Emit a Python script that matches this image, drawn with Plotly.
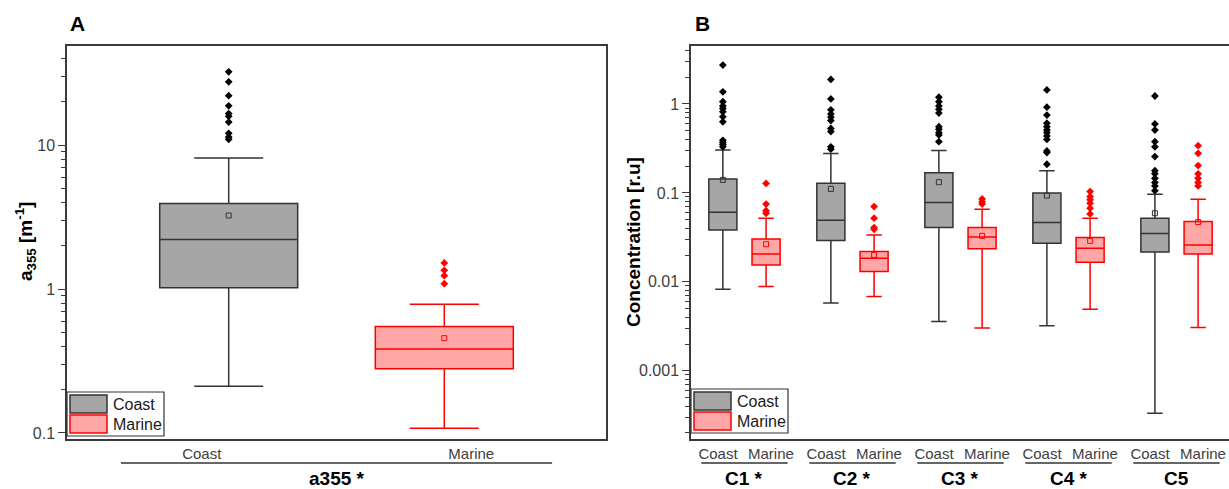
import plotly.graph_objects as go

W, H = 1229, 489
TOP, BOT = 46, 439  # plot area top / bottom in pixels

# ---------------- Panel A data (a355, m^-1) ----------------
a_groups = ["Coast", "Marine"]
a_q1 = [1.02, 0.279]
a_median = [2.21, 0.384]
a_q3 = [3.94, 0.55]
a_low = [0.211, 0.108]
a_high = [8.16, 0.786]
a_mean = [3.25, 0.456]
a_out_coast = [32.4, 27.6, 22.1, 18.8, 16.6, 15.9, 14.5, 12.1, 11.4, 11.0]
a_out_marine = [1.52, 1.35, 1.24, 1.09]

# ---------------- Panel B data (concentration, r.u) ----------------
components = ["C1 *", "C2 *", "C3 *", "C4 *", "C5"]
coast_q1 = [0.0384, 0.0291, 0.0408, 0.0272, 0.0216]
coast_median = [0.0607, 0.0493, 0.0778, 0.0464, 0.0349]
coast_q3 = [0.1436, 0.1285, 0.169, 0.100, 0.052]
coast_low = [0.00828, 0.00577, 0.00358, 0.0032, 0.000332]
coast_high = [0.304, 0.277, 0.299, 0.177, 0.0966]
coast_mean = [0.140, 0.111, 0.132, 0.0933, 0.0591]
marine_q1 = [0.0155, 0.0131, 0.0235, 0.0166, 0.0206]
marine_median = [0.0206, 0.01846, 0.032, 0.0239, 0.026]
marine_q3 = [0.0304, 0.0219, 0.0408, 0.0315, 0.0476]
marine_low = [0.00887, 0.00684, 0.00302, 0.00493, 0.00307]
marine_high = [0.052, 0.0337, 0.0656, 0.052, 0.085]
marine_mean = [0.0265, 0.0201, 0.0329, 0.0289, 0.047]
coast_outliers = [
    [2.74, 1.37, 1.06, 0.95, 0.89, 0.82, 0.72, 0.63, 0.39, 0.37, 0.35, 0.33],
    [1.89, 1.14, 0.86, 0.77, 0.71, 0.65, 0.53, 0.49, 0.33, 0.31],
    [1.19, 1.06, 0.95, 0.87, 0.79, 0.556, 0.52, 0.476, 0.449, 0.377],
    [1.44, 0.92, 0.75, 0.607, 0.556, 0.51, 0.476, 0.437, 0.40, 0.296, 0.284, 0.21],
    [1.23, 0.596, 0.51, 0.377, 0.33, 0.256, 0.178, 0.164, 0.146, 0.131, 0.12, 0.106],
]
marine_outliers = [
    [0.128, 0.075, 0.063, 0.059],
    [0.0702, 0.052, 0.0408, 0.039],
    [0.0857, 0.0798, 0.075],
    [0.1035, 0.0908, 0.0836, 0.0766, 0.0673, 0.058],
    [0.34, 0.279, 0.203, 0.164, 0.146, 0.131, 0.12],
]

COAST_FILL, COAST_LINE = "#a6a6a6", "#333333"
MARINE_FILL, MARINE_LINE = "#ffa6a6", "#ff0000"
AXIS_COLOR = "#3a3a3a"
TICK_TEXT = "#404040"
FONT = "Liberation Sans, Arial, sans-serif"


def px(x):
    return x / W


def py(y):
    return (BOT - y) / (BOT - TOP)


fig = go.Figure()

# ---------- Panel A ----------
a_pos = [1, 2]
for i, (fill, line) in enumerate([(COAST_FILL, COAST_LINE), (MARINE_FILL, MARINE_LINE)]):
    fig.add_trace(go.Box(
        x=[a_pos[i]], q1=[a_q1[i]], median=[a_median[i]], q3=[a_q3[i]],
        lowerfence=[a_low[i]], upperfence=[a_high[i]],
        fillcolor=fill, line=dict(color=line, width=1.5), width=0.64,
        whiskerwidth=0.5, boxpoints=False, showlegend=False,
        xaxis="x", yaxis="y", name=a_groups[i]))
    fig.add_trace(go.Scatter(
        x=[a_pos[i]], y=[a_mean[i]], mode="markers",
        marker=dict(symbol="square-open", size=5, color=line, line=dict(width=1)),
        showlegend=False, xaxis="x", yaxis="y", hoverinfo="skip"))
for i, outs in enumerate([a_out_coast, a_out_marine]):
    col = "#000000" if i == 0 else MARINE_LINE
    fig.add_trace(go.Scatter(
        x=[a_pos[i]] * len(outs), y=outs, mode="markers",
        marker=dict(symbol="diamond", size=6, color=col),
        showlegend=False, xaxis="x", yaxis="y"))

# ---------- Panel B ----------
gpos = [1, 2, 3, 4, 5]
cpos = [g - 0.2 for g in gpos]
mpos = [g + 0.2 for g in gpos]
fig.add_trace(go.Box(
    x=cpos, q1=coast_q1, median=coast_median, q3=coast_q3,
    lowerfence=coast_low, upperfence=coast_high,
    fillcolor=COAST_FILL, line=dict(color=COAST_LINE, width=1.5), width=0.26,
    whiskerwidth=0.55, boxpoints=False, showlegend=False,
    xaxis="x2", yaxis="y2", name="Coast"))
fig.add_trace(go.Box(
    x=mpos, q1=marine_q1, median=marine_median, q3=marine_q3,
    lowerfence=marine_low, upperfence=marine_high,
    fillcolor=MARINE_FILL, line=dict(color=MARINE_LINE, width=1.5), width=0.26,
    whiskerwidth=0.55, boxpoints=False, showlegend=False,
    xaxis="x2", yaxis="y2", name="Marine"))
fig.add_trace(go.Scatter(
    x=cpos, y=coast_mean, mode="markers",
    marker=dict(symbol="square-open", size=5, color=COAST_LINE, line=dict(width=1)),
    showlegend=False, xaxis="x2", yaxis="y2", hoverinfo="skip"))
fig.add_trace(go.Scatter(
    x=mpos, y=marine_mean, mode="markers",
    marker=dict(symbol="square-open", size=5, color=MARINE_LINE, line=dict(width=1)),
    showlegend=False, xaxis="x2", yaxis="y2", hoverinfo="skip"))
cx, cy, mx, my = [], [], [], []
for i in range(5):
    cx += [cpos[i]] * len(coast_outliers[i])
    cy += coast_outliers[i]
    mx += [mpos[i]] * len(marine_outliers[i])
    my += marine_outliers[i]
fig.add_trace(go.Scatter(x=cx, y=cy, mode="markers",
                         marker=dict(symbol="diamond", size=6, color="#000000"),
                         showlegend=False, xaxis="x2", yaxis="y2"))
fig.add_trace(go.Scatter(x=mx, y=my, mode="markers",
                         marker=dict(symbol="diamond", size=6, color=MARINE_LINE),
                         showlegend=False, xaxis="x2", yaxis="y2"))

# ---------- Axes ----------
minorA = [m * 10 ** e for e in range(-2, 2) for m in range(2, 10)]
minorB = [m * 10 ** e for e in range(-4, 1) for m in range(2, 10)]

yaxis_common = dict(type="log", showline=True, linecolor=AXIS_COLOR, linewidth=1.5,
                    ticks="outside", ticklen=7, tickwidth=1.2, tickcolor=AXIS_COLOR,
                    showgrid=False, zeroline=False,
                    tickfont=dict(size=16, color=TICK_TEXT, family=FONT))

fig.update_layout(
    width=W, height=H,
    margin=dict(l=0, r=0, t=TOP, b=H - BOT),
    paper_bgcolor="white", plot_bgcolor="white",
    boxmode="overlay",
    font=dict(family=FONT, color="#1a1a1a"),
    xaxis=dict(domain=[px(67), px(606)], range=[0.25, 2.75], showline=True, mirror=True,
               linecolor=AXIS_COLOR, linewidth=1.5, showgrid=False, zeroline=False,
               tickmode="array", tickvals=[0.875, 2.125], ticktext=a_groups, ticks="",
               tickfont=dict(size=15, color=TICK_TEXT, family=FONT)),
    yaxis=dict(domain=[0, 1], range=[-1.042, 1.69], mirror=True,
               tickmode="array", tickvals=[0.1, 1, 10], ticktext=["0.1", "1", "10"],
               minor=dict(tickmode="array", tickvals=minorA, ticks="outside", ticklen=4,
                          tickcolor=AXIS_COLOR, showgrid=False),
               **yaxis_common),
    xaxis2=dict(domain=[px(691), 1.0], range=[0.505, 5.486], showline=True, mirror=True,
                linecolor=AXIS_COLOR, linewidth=1.5, showgrid=False, zeroline=False,
                anchor="y2",
                tickmode="array",
                tickvals=[v for g in gpos for v in (g - 0.245, g + 0.245)],
                ticktext=[t for g in gpos for t in ("Coast", "Marine")], ticks="",
                tickfont=dict(size=15, color=TICK_TEXT, family=FONT)),
    yaxis2=dict(domain=[0, 1], range=[-3.767, 0.652], anchor="x2",
                tickmode="array", tickvals=[0.001, 0.01, 0.1, 1],
                ticktext=["0.001", "0.01", "0.1", "1"],
                minor=dict(tickmode="array", tickvals=minorB, ticks="outside", ticklen=4,
                           tickcolor=AXIS_COLOR, showgrid=False),
                **yaxis_common),
)

# ---------- Annotations / shapes ----------
ann = []
shapes = []
ann.append(dict(text="<b>A</b>", x=px(77), y=py(23), xref="paper", yref="paper",
                showarrow=False, font=dict(size=21, color="#000"), xanchor="center", yanchor="middle"))
ann.append(dict(text="<b>B</b>", x=px(702), y=py(23), xref="paper", yref="paper",
                showarrow=False, font=dict(size=21, color="#000"), xanchor="center", yanchor="middle"))
ann.append(dict(text="<b>a<sub>355</sub> [m<sup>-1</sup>]</b>", x=px(25), y=py(242),
                xref="paper", yref="paper", textangle=-90, showarrow=False,
                font=dict(size=19, color="#000"), xanchor="center", yanchor="middle"))
ann.append(dict(text="<b>Concentration [r.u]</b>", x=px(633), y=py(242),
                xref="paper", yref="paper", textangle=-90, showarrow=False,
                font=dict(size=19, color="#000"), xanchor="center", yanchor="middle"))
ann.append(dict(text="<b>a355 *</b>", x=1.5, y=py(478), xref="x", yref="paper",
                showarrow=False, font=dict(size=19, color="#000"), xanchor="center", yanchor="middle"))
shapes.append(dict(type="line", xref="x", yref="paper", x0=0.5, x1=2.5,
                   y0=py(463), y1=py(463), line=dict(color="#333", width=1.5)))
for g, name in zip(gpos, components):
    ann.append(dict(text="<b>%s</b>" % name, x=g, y=py(478), xref="x2", yref="paper",
                    showarrow=False, font=dict(size=19, color="#000"), xanchor="center", yanchor="middle"))
    shapes.append(dict(type="line", xref="x2", yref="paper", x0=g - 0.4, x1=g + 0.4,
                       y0=py(463), y1=py(463), line=dict(color="#333", width=1.5)))


def legend(x0, y0):
    shapes.append(dict(type="rect", xref="paper", yref="paper", x0=px(x0), x1=px(x0 + 97),
                       y0=py(y0), y1=py(y0 + 44), line=dict(color="#333", width=1.2),
                       fillcolor="white"))
    for k, (fill, line, lab) in enumerate([(COAST_FILL, COAST_LINE, "Coast"),
                                           (MARINE_FILL, MARINE_LINE, "Marine")]):
        ty = y0 + 3 + k * 20
        shapes.append(dict(type="rect", xref="paper", yref="paper", x0=px(x0 + 3), x1=px(x0 + 40),
                           y0=py(ty), y1=py(ty + 18), line=dict(color=line, width=1.5),
                           fillcolor=fill))
        ann.append(dict(text=lab, x=px(x0 + 44), y=py(ty + 9), xref="paper", yref="paper",
                        showarrow=False, font=dict(size=16, color="#1a1a1a"),
                        xanchor="left", yanchor="middle"))


legend(67, 392)
legend(691, 389)

fig.update_layout(annotations=ann, shapes=shapes)
fig.write_html("out.html",
               config={"displayModeBar": False},
               post_script="document.body.style.margin='0';document.body.style.overflow='hidden';")
